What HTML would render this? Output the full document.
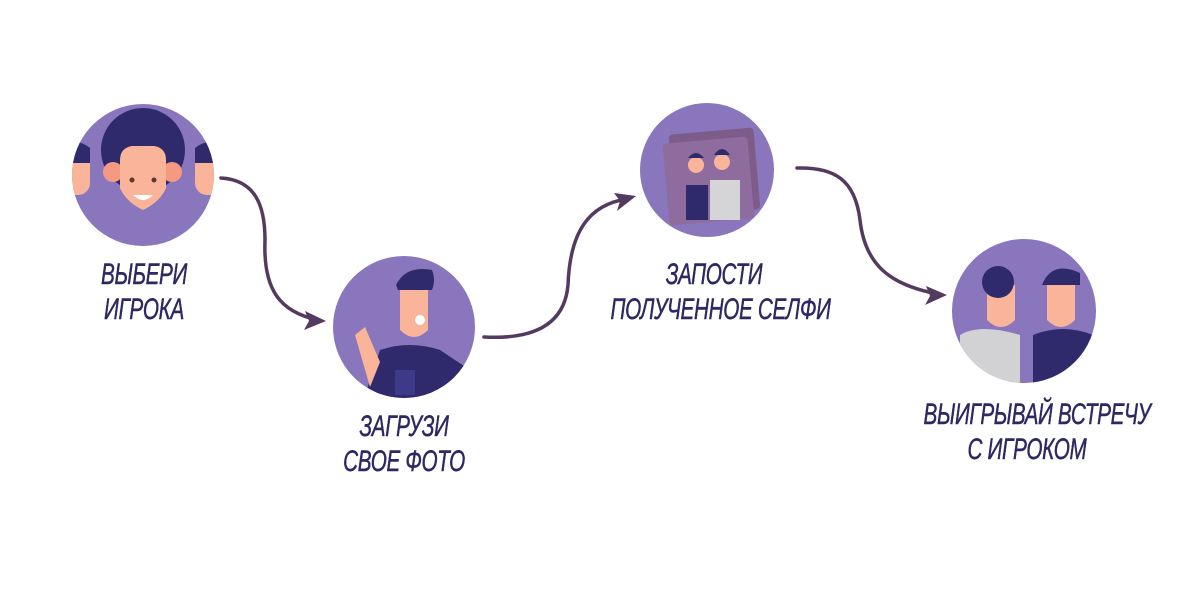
<!DOCTYPE html>
<html><head><meta charset="utf-8"><style>
html,body{margin:0;padding:0;background:#fff;width:1200px;height:591px;overflow:hidden}
.t{position:absolute;font-family:"Liberation Sans Narrow","Liberation Sans",sans-serif;font-style:italic;color:#2d2862;font-size:30px;line-height:35px;text-align:center;transform:scaleX(0.69);white-space:nowrap;letter-spacing:-0.5px;-webkit-text-stroke:0.5px #2d2862}
</style></head><body>
<svg width="1200" height="591" style="position:absolute;left:0;top:0">
<defs>
<clipPath id="c1"><circle cx="143" cy="175" r="71"/></clipPath>
<clipPath id="c2"><circle cx="404" cy="327" r="71"/></clipPath>
<clipPath id="c3"><circle cx="707" cy="170" r="67"/></clipPath>
<clipPath id="c4"><circle cx="1024" cy="311" r="72"/></clipPath>
</defs>
<circle cx="143" cy="175" r="71" fill="#8976bd"/>
<g clip-path="url(#c1)">
<rect x="60" y="150" width="30" height="45" rx="12" fill="#f9b49a"/>
<path d="M60 148 q15 -12 30 0 v15 h-30z" fill="#2f2a6b"/>
<rect x="195" y="150" width="30" height="45" rx="12" fill="#f9b49a"/>
<path d="M195 148 q15 -12 30 0 v15 h-30z" fill="#2f2a6b"/>
<circle cx="143" cy="150" r="42" fill="#2f2a6b"/>
<circle cx="113" cy="172" r="10" fill="#f59a80"/><circle cx="172" cy="172" r="10" fill="#f59a80"/>
<path d="M120 160 q0 -12 12 -14 h22 q12 2 12 14 v28 q-6 14 -23 22 q-17 -8 -23 -22z" fill="#f9b49a"/>
<circle cx="132" cy="180" r="2.5" fill="#5a3a30"/><circle cx="154" cy="180" r="2.5" fill="#5a3a30"/>
<path d="M133 195 q10 10 20 0z" fill="#fff"/>
</g>
<circle cx="404" cy="327" r="71" fill="#8976bd"/>
<g clip-path="url(#c2)">
<path d="M380 350 q30 -10 60 0 l30 20 v40 h-110z" fill="#2f2a6b"/>
<rect x="395" y="370" width="20" height="25" fill="#3e3a8a"/>
<path d="M355 335 l10 -8 l15 35 l-10 25z" fill="#f9b49a"/>
<path d="M400 290 h28 v40 q-14 14 -28 0z" fill="#f9b49a"/>
<path d="M396 285 q10 -20 36 -15 q4 10 0 20 h-34z" fill="#2f2a6b"/>
<circle cx="420" cy="320" r="5" fill="#fff"/>
</g>
<circle cx="707" cy="170" r="67" fill="#8976bd"/>
<g clip-path="url(#c3)">
<rect x="672" y="131" width="85" height="82" rx="4" fill="#7d5c8a" transform="rotate(-5 714 172)"/>
<rect x="666" y="140" width="85" height="82" rx="4" fill="#8e6c9e" transform="rotate(-5 708 181)"/>
<rect x="686" y="185" width="22" height="35" fill="#2f2a6b"/>
<rect x="710" y="180" width="30" height="40" fill="#d5d5d8"/>
<circle cx="696" cy="165" r="8" fill="#f9b49a"/><circle cx="722" cy="162" r="8" fill="#f9b49a"/>
<path d="M688 158 q8 -10 16 0z" fill="#2f2a6b"/><path d="M714 155 q8 -12 16 0z" fill="#2f2a6b"/>
</g>
<circle cx="1024" cy="311" r="72" fill="#8976bd"/>
<g clip-path="url(#c4)">
<path d="M960 335 q20 -12 60 0 v50 h-60z" fill="#d2d2d4"/>
<path d="M1033 335 q30 -12 60 0 v50 h-60z" fill="#2f2a6b"/>
<path d="M987 285 h28 v35 q-14 14 -28 0z" fill="#f9b49a"/>
<path d="M1047 285 h28 v35 q-14 14 -28 0z" fill="#f9b49a"/>
<circle cx="998" cy="282" r="16" fill="#2f2a6b"/>
<path d="M1042 285 q10 -25 38 -12 v12z" fill="#2f2a6b"/>
</g>
<g fill="none" stroke="#553a60" stroke-width="3.5" stroke-linecap="round">
<path d="M221 178 C255 180 265 205 265 240 C263 290 280 312 318 320"/>
<path d="M484 337 C540 340 565 320 568 285 C570 230 590 205 626 199"/>
<path d="M797 168 C835 167 855 180 860 220 C865 265 890 285 938 294"/>
</g>
<g fill="#553a60">
<path d="M326 321 L305 311 L309 321 L304 330z"/>
<path d="M636 196 L614 193 L620 201 L617 211z"/>
<path d="M947 295 L926 286 L930 296 L925 305z"/>
</g>
</svg>
<div class="t" style="left:44px;top:257px;width:200px">ВЫБЕРИ<br>ИГРОКА</div>
<div class="t" style="left:304px;top:409px;width:200px">ЗАГРУЗИ<br>СВОЕ ФОТО</div>
<div class="t" style="left:564px;top:257px;width:300px">ЗАПОСТИ<br>ПОЛУЧЕННОЕ СЕЛФИ</div>
<div class="t" style="left:877px;top:397px;width:300px">ВЫИГРЫВАЙ ВСТРЕЧУ<br>С ИГРОКОМ</div>
</body></html>
